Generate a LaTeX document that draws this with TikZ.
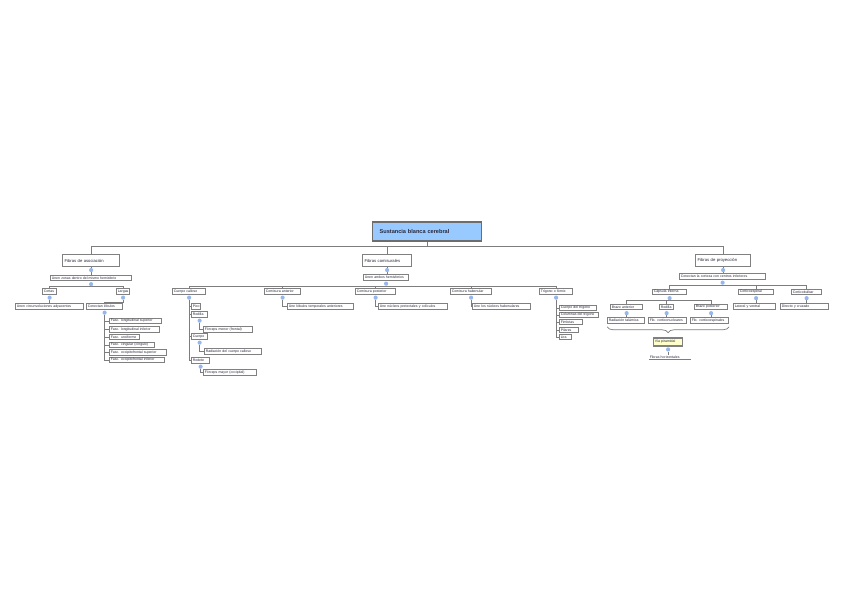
\documentclass[tikz,border=0pt]{standalone}
\usepackage{fontspec}
\setmainfont{Liberation Sans}
\usepackage{xcolor}
\usepackage{tikz}
\usetikzlibrary{positioning,backgrounds,calc,decorations.pathreplacing}
\definecolor{RootBlue}{RGB}{153, 202, 255}
\definecolor{KnobBlue}{RGB}{150, 182, 236}
\definecolor{FrameGray}{RGB}{128, 128, 128}
\definecolor{LinkGray}{RGB}{125, 125, 125}
\definecolor{NoteYellow}{RGB}{255, 255, 204}
\definecolor{InkDark}{RGB}{40, 40, 60}
\newcommand{\mapfont}{\fontsize{3.5}{4}\selectfont}
\newcommand{\headfont}{\fontsize{4.2}{5}\selectfont}
\newcommand{\rootfont}{\fontsize{5.6}{6}\selectfont\bfseries}

\begin{document}
\begin{tikzpicture}[x=1pt, y=-1pt,
      every node/.style={align=left, text=InkDark},
      box/.style={rectangle, draw=FrameGray, line width=1.1pt, fill=white, font=\mapfont, anchor=west, inner xsep=1.2pt, inner ysep=0.4pt, minimum height=5.4pt, text width=#1},
      head/.style={box=#1, font=\headfont, inner xsep=2pt, minimum height=12pt, line width=1.3pt},
      rootbox/.style={box=#1, font=\rootfont, fill=RootBlue, draw=FrameGray!85!black, inner xsep=7pt, minimum height=19pt, line width=1.3pt},
      knob/.style={circle, fill=KnobBlue, inner sep=0pt, minimum size=4.2pt},
      link/.style={draw=LinkGray, line width=0.8pt}
    ]
      \useasboundingbox (0,0) rectangle (848,599);

      % Root and main groups
      \node[rootbox=95pt] (root) at (372, 231.5) {Sustancia blanca cerebral};
      \node[head=53pt] (asoc) at (62, 260.5) {Fibras de asociación};
      \node[head=45pt] (comi) at (362, 260.5) {Fibras comisurales};
      \node[head=51pt] (proy) at (695, 260.5) {Fibras de proyección};

      % Asociacion
      \node[box=78.7pt] (unen1) at (50, 278) {Unen zonas dentro del mismo hemisferio};
      \node[box=11.7pt] (cortas) at (42, 291.5) {Cortas};
      \node[box=10.7pt] (largas) at (116, 291.5) {Largas};
      \node[box=65.7pt] (circ) at (15, 306.5) {Unen circunvoluciones adyacentes};
      \node[box=33.7pt] (lob) at (86, 306.5) {Conectan lóbulos};
      \node[box=49.7pt] (fls) at (109, 321) {Fasc. longitudinal superior};
      \node[box=47.7pt] (fli) at (109, 329.5) {Fasc. longitudinal inferior};
      \node[box=27.7pt] (fun) at (109, 337) {Fasc. unciforme};
      \node[box=42.7pt] (fci) at (109, 345) {Fasc. cingular (cíngulo)};
      \node[box=54.7pt] (fos) at (109, 352.5) {Fasc. occipitofrontal superior};
      \node[box=52.7pt] (foi) at (109, 360) {Fasc. occipitofrontal inferior};

      % Comisurales
      \node[box=42.7pt] (unen2) at (363, 277.5) {Unen ambos hemisferios};
      \node[box=30.7pt] (cc) at (172, 291.5) {Cuerpo calloso};
      \node[box=33.7pt] (ca) at (264, 291.5) {Comisura anterior};
      \node[box=37.7pt] (cp) at (355, 291.5) {Comisura posterior};
      \node[box=38.7pt] (ch) at (450, 291.5) {Comisura habenular};
      \node[box=30.7pt] (tf) at (539, 291.5) {Trígono o fórnix};
      \node[box=6.7pt] (pico) at (191, 306.5) {Pico};
      \node[box=13.7pt] (rod) at (191, 314.5) {Rodilla};
      \node[box=13.7pt] (cue) at (191, 336.5) {Cuerpo};
      \node[box=15.7pt] (rodt) at (191, 360.5) {Rodete};
      \node[box=46.7pt] (fmen) at (203, 329.5) {Fórceps menor (frontal)};
      \node[box=54.7pt] (rad) at (204, 351.5) {Radiación del cuerpo calloso};
      \node[box=50.7pt] (fmay) at (203, 372.5) {Fórceps mayor (occipital)};
      \node[box=63.7pt] (ule) at (287, 306.5) {Une lóbulos temporales anteriores};
      \node[box=66.7pt] (unp) at (378, 306.5) {Une núcleos pretectales y colículos};
      \node[box=55.7pt] (unh) at (472, 306.5) {Une los núcleos habenulares};
      \node[box=34.7pt] (ctr) at (559, 308) {Cuerpo del trígono};
      \node[box=36.7pt] (col) at (559, 315) {Columnas del trígono};
      \node[box=20.7pt] (fim) at (559, 322) {Fimbrias};
      \node[box=16.7pt] (pil) at (559, 330) {Pilares};
      \node[box=9.7pt] (lira) at (559, 337) {Lira};

      % Proyeccion
      \node[box=83.7pt] (conec) at (679, 276.5) {Conectan la corteza con centros inferiores};
      \node[box=31.7pt] (ci) at (652, 292) {Cápsula interna};
      \node[box=32.7pt] (ces) at (738, 292) {Corticoespinal};
      \node[box=27.7pt] (cbu) at (791, 292) {Corticobulbar};
      \node[box=29.7pt] (ba) at (610, 307) {Brazo anterior};
      \node[box=11.7pt] (rod2) at (659, 307) {Rodilla};
      \node[box=30.7pt] (bp) at (694, 307) {Brazo posterior};
      \node[box=34.7pt] (rta) at (607, 320.5) {Radiación talámica};
      \node[box=35.7pt] (fcn) at (648, 320.5) {Fib. corticonucleares};
      \node[box=35.7pt] (fce) at (690, 320.5) {Fib. corticoespinales};
      \node[box=26.7pt, fill=NoteYellow, minimum height=8pt] (vp) at (653, 342) {Vía piramidal};
      \node[font=\mapfont, anchor=west, inner sep=0.6pt, text width=38pt] (fh) at (649, 357) {Fibras horizontales};
      \node[box=39.7pt] (lat) at (733, 306.5) {Lateral y ventral};
      \node[box=45.7pt] (dir) at (780, 306.5) {Directo y cruzado};

      % Knobs
      \node[knob, below=0.6pt of asoc] (kAsoc) {};
      \node[knob, below=0.6pt of unen1] (kUnen1) {};
      \node[knob, below=0.6pt of cortas] (kCortas) {};
      \node[knob, below=0.6pt of largas] (kLargas) {};
      \node[knob, below=0.6pt of lob] (kLob) {};
      \node[knob, below=0.6pt of comi] (kComi) {};
      \node[knob, below=0.6pt of unen2] (kUnen2) {};
      \node[knob, below=0.6pt of cc] (kCc) {};
      \node[knob, below=0.6pt of ca] (kCa) {};
      \node[knob, below=0.6pt of cp] (kCp) {};
      \node[knob, below=0.6pt of ch] (kCh) {};
      \node[knob, below=0.6pt of tf] (kTf) {};
      \node[knob, below=0.6pt of rod] (kRod) {};
      \node[knob, below=0.6pt of cue] (kCue) {};
      \node[knob, below=0.6pt of rodt] (kRodt) {};
      \node[knob, below=0.6pt of proy] (kProy) {};
      \node[knob, below=0.6pt of conec] (kConec) {};
      \node[knob, below=0.6pt of ci] (kCi) {};
      \node[knob, below=0.6pt of ces] (kCes) {};
      \node[knob, below=0.6pt of cbu] (kCbu) {};
      \node[knob, below=0.6pt of ba] (kBa) {};
      \node[knob, below=0.6pt of rod2] (kRod2) {};
      \node[knob, below=0.6pt of bp] (kBp) {};
      \node[knob, below=0.6pt of vp] (kVp) {};

      \begin{scope}[on background layer]
        % Root links
        \draw[link] (root.south) -- ++(0,5) -| (asoc.north);
        \draw[link] (root.south) -- ++(0,5) -| (comi.north);
        \draw[link] (root.south) -- ++(0,5) -| (proy.north);

        % Asociacion links
        \draw[link] (asoc.south) -- (unen1.north -| asoc.south);
        \draw[link] (kUnen1.south) -| (cortas.north);
        \draw[link] (kUnen1.south) -| (largas.north);
        \draw[link] (kCortas.south) -- (circ.north -| kCortas.south);
        \draw[link] (kLargas.south) -- ++(0,2.5) -| (lob.north);
        \foreach \f in {fls,fli,fun,fci,fos,foi}
          \draw[link] (kLob) |- (\f.west);

        % Comisurales links
        \draw[link] (comi.south) -- (unen2.north -| comi.south);
        \foreach \c in {cc,ca,cp,ch,tf}
          \draw[link] (kUnen2.south) -| (\c.north);
        \foreach \c in {pico,rod,cue,rodt}
          \draw[link] (kCc) |- (\c.west);
        \draw[link] (kRod) |- (fmen.west);
        \draw[link] (kCue) |- (rad.west);
        \draw[link] (kRodt) |- (fmay.west);
        \draw[link] (kCa) |- (ule.west);
        \draw[link] (kCp) |- (unp.west);
        \draw[link] (kCh) |- (unh.west);
        \foreach \t in {ctr,col,fim,pil,lira}
          \draw[link] (kTf) |- (\t.west);

        % Proyeccion links
        \draw[link] (proy.south) -- (conec.north -| proy.south);
        \foreach \p in {ci,ces,cbu}
          \draw[link] (kConec.south) -| (\p.north);
        \foreach \p in {ba,rod2,bp}
          \draw[link] (kCi.south) -| (\p.north);
        \draw[link] (kBa.south) -- (rta.north -| kBa.south);
        \draw[link] (kRod2.south) -- (fcn.north -| kRod2.south);
        \draw[link] (kBp.south) -- (fce.north -| kBp.south);
        \draw[link] (kCes.south) -- (lat.north -| kCes.south);
        \draw[link] (kCbu.south) -- (dir.north -| kCbu.south);
        \draw[link] (kVp.south) -- (fh.north -| kVp.south);
      \end{scope}

      % Brace and underline
      \draw[link, line width=0.7pt, decorate, decoration={brace, amplitude=6pt}]
        ($(fce.south east)+(0,3)$) -- ($(rta.south west)+(0,3)$);
      \draw[link, line width=0.6pt] (fh.south west) -- ($(fh.south east)+(2,0)$);
    \end{tikzpicture}
\end{document}
